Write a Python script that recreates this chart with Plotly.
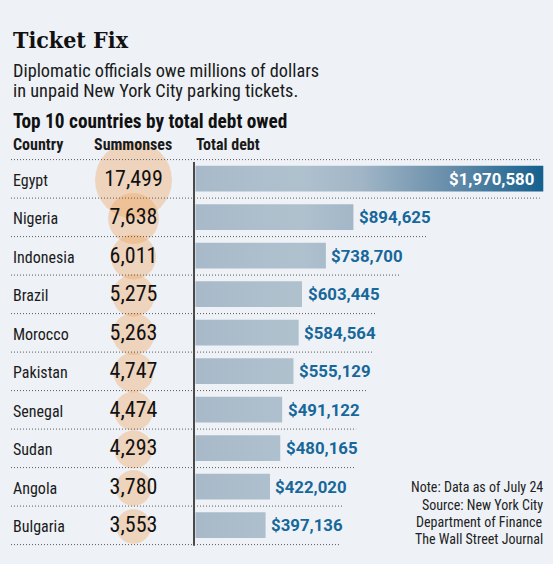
import numpy as np
import plotly.graph_objects as go

countries = ["Egypt", "Nigeria", "Indonesia", "Brazil", "Morocco",
             "Pakistan", "Senegal", "Sudan", "Angola", "Bulgaria"]
summonses = [17499, 7638, 6011, 5275, 5263, 4747, 4474, 4293, 3780, 3553]
total_debt = [1970580, 894625, 738700, 603445, 584564, 555129, 491122, 480165, 422020, 397136]

title = "Ticket Fix"
subtitle = ["Diplomatic officials owe millions of dollars",
            "in unpaid New York City parking tickets."]
heading = "Top 10 countries by total debt owed"
col_headers = ["Country", "Summonses", "Total debt"]
notes = ["Note: Data as of July 24", "Source: New York City",
         "Department of Finance", "The Wall Street Journal"]

W, H = 553, 564
BG = "#eef2f7"
NARROW = "Liberation Sans Narrow, Arial Narrow, Roboto Condensed, Roboto, sans-serif"
BOLDNUM = "Roboto, Liberation Sans, sans-serif"
BLUE = "#17679a"

# pixel layout -> axis units
axis_px = 195.5          # where a bar starts
bar_full_px = 347.8      # length of the longest bar
scale = max(total_debt) / bar_full_px
row0_px, row_h = 180, 38.5


def xpx(p):
    return (p - axis_px) * scale


def ypaper(p):
    return 1 - p / H


fig = go.Figure()

# bars as filled polygons so they can share one horizontal gradient
xs, ys = [], []
for i, v in enumerate(total_debt):
    xs += [0, v, v, 0, 0, None]
    ys += [i - 0.37, i - 0.37, i + 0.30, i + 0.30, i - 0.37, None]
fig.add_trace(go.Scatter(
    x=xs, y=ys, mode="lines", line=dict(width=0), fill="toself",
    fillgradient=dict(type="horizontal", start=0, stop=max(total_debt),
                      colorscale=[[0, "#a8bac9"], [0.3, "#b0c1ce"],
                                  [0.48, "#a0b5c6"], [0.72, "#6a8fab"],
                                  [1, "#14608e"]]),
    hoverinfo="skip"))

# summons bubbles
smax = max(summonses)
fig.add_trace(go.Scatter(
    x=[xpx(133.5)] * len(summonses), y=list(range(len(summonses))),
    mode="markers+text",
    marker=dict(size=[77 * np.sqrt(s / smax) for s in summonses], sizemode="diameter",
                color="rgba(241,158,80,0.5)", line=dict(width=0)),
    text=[f"{s:,}" for s in summonses], textposition="middle center",
    textfont=dict(family=NARROW, size=22, color="#111"),
    hoverinfo="skip"))

shapes = []
# dotted row separators
ends = [max(total_debt) - 3.5 * scale] + \
       [max(total_debt) - 3.5 * scale] + [v + 74 * scale for v in total_debt[1:]]
for k, e in enumerate(ends):
    yk = k - 0.53
    shapes.append(dict(type="line", xref="x", yref="y", x0=xpx(11), x1=e, y0=yk, y1=yk,
                       line=dict(color="#5a5a5a", width=1, dash="1px,2px")))
# axis line
shapes.append(dict(type="line", xref="x", yref="y", x0=xpx(194), x1=xpx(194),
                   y0=-0.47, y1=9.5, line=dict(color="#4a4a4a", width=2)))

ann = []
ann.append(dict(text="<b>" + title + "</b>", x=11 / W, y=ypaper(39.5), xanchor="left",
                yanchor="middle", font=dict(family="DejaVu Serif Condensed, DejaVu Serif",
                                            size=23, color="#111")))
for j, line in enumerate(subtitle):
    ann.append(dict(text=line, x=11 / W, y=ypaper(70 + 20.5 * j), xanchor="left",
                    yanchor="middle", font=dict(family=NARROW, size=18.3, color="#1a1a1a")))
ann.append(dict(text="<b>" + heading + "</b>", x=11 / W, y=ypaper(121), xanchor="left",
                yanchor="middle", font=dict(family=NARROW, size=19.3, color="#111")))
for hx, h in zip([11, 92, 194], col_headers):
    ann.append(dict(text="<b>" + h + "</b>", x=hx / W, y=ypaper(144.5), xanchor="left",
                    yanchor="middle", font=dict(family=NARROW, size=16, color="#1a1a1a")))
for i, c in enumerate(countries):
    ann.append(dict(text=c, xref="paper", yref="y", x=11 / W, y=i, xanchor="left",
                    yanchor="middle", font=dict(family=NARROW, size=16, color="#1a1a1a")))
for i, v in enumerate(total_debt):
    inside = v == max(total_debt)
    ann.append(dict(text=f"<b>${v:,}</b>", xref="x", yref="y", x=v, y=i - 0.03,
                    xanchor="right" if inside else "left", xshift=-7 if inside else 3.5,
                    yanchor="middle",
                    font=dict(family=BOLDNUM, size=16.8, color="white" if inside else BLUE)))
for j, (n, py) in enumerate(zip(notes, [487, 505, 521.5, 539])):
    ann.append(dict(text=n, x=545 / W, y=ypaper(py), xanchor="right", yanchor="middle",
                    font=dict(family=NARROW, size=14, color="#222")))

fig.update_layout(
    width=W, height=H, margin=dict(l=0, r=0, t=0, b=0),
    paper_bgcolor=BG, plot_bgcolor=BG, showlegend=False,
    xaxis=dict(range=[xpx(0), xpx(W)], visible=False, fixedrange=True),
    yaxis=dict(range=[(H - row0_px) / row_h, -row0_px / row_h], visible=False,
               fixedrange=True),
    shapes=shapes, annotations=ann,
)
for a in fig.layout.annotations:
    if a.xref is None:
        a.xref = "paper"
    if a.yref is None:
        a.yref = "paper"
    a.showarrow = False

# page body has a default margin; drop it so the chart fills the window
fig.write_html("out.html", config={"displayModeBar": False},
               post_script="document.body.style.margin='0';document.body.style.overflow='hidden';")
